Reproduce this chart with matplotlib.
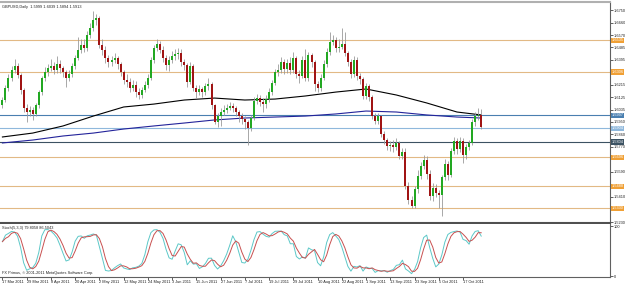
import matplotlib
matplotlib.use('Agg')
import matplotlib.pyplot as plt
import numpy as np
import pandas as pd

# GBPUSD daily bars, 17 Mar 2011 .. 25 Oct 2011
opens = [1.6070, 1.6105, 1.6191, 1.6263, 1.6320, 1.6349, 1.6284, 1.6177, 1.6048, 1.6019,
         1.6033, 1.6005, 1.6069, 1.6162, 1.6263, 1.6306, 1.6334, 1.6349, 1.6320, 1.6363,
         1.6334, 1.6306, 1.6263, 1.6291, 1.6349, 1.6406, 1.6464, 1.6499, 1.6478, 1.6571,
         1.6621, 1.6679, 1.6693, 1.6499, 1.6464, 1.6406, 1.6377, 1.6392, 1.6406, 1.6363,
         1.6306, 1.6248, 1.6234, 1.6191, 1.6213, 1.6162, 1.6141, 1.6177, 1.6213, 1.6263,
         1.6392, 1.6478, 1.6507, 1.6464, 1.6406, 1.6356, 1.6392, 1.6420, 1.6435, 1.6442,
         1.6377, 1.6356, 1.6234, 1.6349, 1.6191, 1.6162, 1.6184, 1.6162, 1.6205, 1.6220,
         1.6069, 1.5947, 1.5990, 1.6019, 1.6033, 1.6048, 1.6062, 1.6048, 1.6019, 1.5990,
         1.5969, 1.5947, 1.5904, 1.5976, 1.6098, 1.6119, 1.6091, 1.6076, 1.6112, 1.6162,
         1.6227, 1.6306, 1.6320, 1.6377, 1.6327, 1.6370, 1.6320, 1.6406, 1.6291, 1.6277,
         1.6392, 1.6263, 1.6428, 1.6377, 1.6220, 1.6191, 1.6263, 1.6363, 1.6449, 1.6521,
         1.6535, 1.6478, 1.6485, 1.6507, 1.6442, 1.6377, 1.6291, 1.6392, 1.6277, 1.6256,
         1.6134, 1.6205, 1.6127, 1.5990, 1.5954, 1.5990, 1.5861, 1.5818, 1.5775, 1.5782,
         1.5768, 1.5797, 1.5704, 1.5732, 1.5488, 1.5388, 1.5345, 1.5467, 1.5560, 1.5632,
         1.5675, 1.5574, 1.5417, 1.5474, 1.5438, 1.5424, 1.5553, 1.5646, 1.5567, 1.5739,
         1.5811, 1.5754, 1.5811, 1.5711, 1.5768, 1.5797, 1.5947, 1.5990, 1.5999]
highs = [1.6130, 1.6210, 1.6290, 1.6350, 1.6400, 1.6370, 1.6300, 1.6190, 1.6075, 1.6060,
         1.6055, 1.6085, 1.6180, 1.6280, 1.6340, 1.6360, 1.6400, 1.6375, 1.6420, 1.6390,
         1.6350, 1.6320, 1.6320, 1.6370, 1.6430, 1.6560, 1.6540, 1.6540, 1.6600, 1.6660,
         1.6746, 1.6720, 1.6710, 1.6540, 1.6490, 1.6430, 1.6420, 1.6440, 1.6420, 1.6380,
         1.6320, 1.6290, 1.6260, 1.6250, 1.6240, 1.6190, 1.6200, 1.6240, 1.6290, 1.6410,
         1.6500, 1.6545, 1.6530, 1.6490, 1.6430, 1.6420, 1.6460, 1.6470, 1.6480, 1.6470,
         1.6400, 1.6370, 1.6380, 1.6360, 1.6210, 1.6210, 1.6200, 1.6230, 1.6260, 1.6235,
         1.6080, 1.6010, 1.6050, 1.6070, 1.6080, 1.6090, 1.6085, 1.6060, 1.6030, 1.6010,
         1.5990, 1.5960, 1.6000, 1.6130, 1.6150, 1.6140, 1.6120, 1.6140, 1.6190, 1.6250,
         1.6330, 1.6360, 1.6410, 1.6400, 1.6400, 1.6410, 1.6450, 1.6420, 1.6320, 1.6420,
         1.6470, 1.6450, 1.6440, 1.6390, 1.6240, 1.6290, 1.6390, 1.6480, 1.6590, 1.6570,
         1.6560, 1.6540, 1.6618, 1.6590, 1.6460, 1.6400, 1.6420, 1.6410, 1.6300, 1.6270,
         1.6230, 1.6220, 1.6140, 1.6010, 1.6010, 1.6000, 1.5880, 1.5830, 1.5810, 1.5820,
         1.5830, 1.5810, 1.5760, 1.5760, 1.5520, 1.5420, 1.5490, 1.5600, 1.5660, 1.5710,
         1.5700, 1.5600, 1.5510, 1.5500, 1.5460, 1.5570, 1.5680, 1.5670, 1.5760, 1.5840,
         1.5830, 1.5840, 1.5830, 1.5790, 1.5820, 1.5970, 1.6020, 1.6045, 1.6039]
lows = [1.6050, 1.6090, 1.6170, 1.6245, 1.6300, 1.6260, 1.6150, 1.6020, 1.5950, 1.5990,
        1.5960, 1.5990, 1.6050, 1.6140, 1.6240, 1.6280, 1.6310, 1.6290, 1.6300, 1.6300,
        1.6270, 1.6200, 1.6240, 1.6270, 1.6330, 1.6390, 1.6440, 1.6450, 1.6460, 1.6550,
        1.6600, 1.6640, 1.6480, 1.6430, 1.6370, 1.6340, 1.6350, 1.6370, 1.6330, 1.6280,
        1.6220, 1.6200, 1.6160, 1.6170, 1.6130, 1.6110, 1.6120, 1.6160, 1.6190, 1.6250,
        1.6370, 1.6460, 1.6440, 1.6380, 1.6320, 1.6310, 1.6370, 1.6390, 1.6400, 1.6350,
        1.6320, 1.6200, 1.6220, 1.6170, 1.6120, 1.6140, 1.6130, 1.6140, 1.6180, 1.6040,
        1.5930, 1.5910, 1.5920, 1.6000, 1.6010, 1.6030, 1.6020, 1.5990, 1.5950, 1.5930,
        1.5900, 1.5780, 1.5880, 1.5960, 1.6080, 1.6060, 1.6020, 1.6050, 1.6090, 1.6140,
        1.6210, 1.6280, 1.6300, 1.6290, 1.6300, 1.6290, 1.6300, 1.6260, 1.6230, 1.6260,
        1.6240, 1.6240, 1.6340, 1.6170, 1.6160, 1.6170, 1.6250, 1.6340, 1.6430, 1.6500,
        1.6450, 1.6450, 1.6470, 1.6420, 1.6350, 1.6260, 1.6270, 1.6250, 1.6220, 1.6110,
        1.6110, 1.6100, 1.5970, 1.5930, 1.5930, 1.5840, 1.5790, 1.5750, 1.5740, 1.5730,
        1.5750, 1.5680, 1.5680, 1.5470, 1.5360, 1.5330, 1.5330, 1.5440, 1.5540, 1.5610,
        1.5540, 1.5390, 1.5380, 1.5410, 1.5330, 1.5272, 1.5530, 1.5530, 1.5550, 1.5720,
        1.5720, 1.5730, 1.5650, 1.5680, 1.5750, 1.5780, 1.5920, 1.5960, 1.5894]
closes = [1.6105, 1.6191, 1.6263, 1.6320, 1.6349, 1.6284, 1.6177, 1.6048, 1.6019, 1.6033,
          1.6005, 1.6069, 1.6162, 1.6263, 1.6306, 1.6334, 1.6349, 1.6320, 1.6363, 1.6334,
          1.6306, 1.6263, 1.6291, 1.6349, 1.6406, 1.6464, 1.6499, 1.6478, 1.6571, 1.6621,
          1.6679, 1.6693, 1.6499, 1.6464, 1.6406, 1.6377, 1.6392, 1.6406, 1.6363, 1.6306,
          1.6248, 1.6234, 1.6191, 1.6213, 1.6162, 1.6141, 1.6177, 1.6213, 1.6263, 1.6392,
          1.6478, 1.6507, 1.6464, 1.6406, 1.6356, 1.6392, 1.6420, 1.6435, 1.6442, 1.6377,
          1.6356, 1.6234, 1.6349, 1.6191, 1.6162, 1.6184, 1.6162, 1.6205, 1.6220, 1.6069,
          1.5947, 1.5990, 1.6019, 1.6033, 1.6048, 1.6062, 1.6048, 1.6019, 1.5990, 1.5969,
          1.5947, 1.5904, 1.5976, 1.6098, 1.6119, 1.6091, 1.6076, 1.6112, 1.6162, 1.6227,
          1.6306, 1.6320, 1.6377, 1.6327, 1.6370, 1.6320, 1.6406, 1.6291, 1.6277, 1.6392,
          1.6263, 1.6428, 1.6377, 1.6220, 1.6191, 1.6263, 1.6363, 1.6449, 1.6521, 1.6535,
          1.6478, 1.6485, 1.6507, 1.6442, 1.6377, 1.6291, 1.6392, 1.6277, 1.6256, 1.6134,
          1.6205, 1.6127, 1.5990, 1.5954, 1.5990, 1.5861, 1.5818, 1.5775, 1.5782, 1.5768,
          1.5797, 1.5704, 1.5732, 1.5488, 1.5388, 1.5345, 1.5467, 1.5560, 1.5632, 1.5675,
          1.5574, 1.5417, 1.5474, 1.5438, 1.5424, 1.5553, 1.5646, 1.5567, 1.5739, 1.5811,
          1.5754, 1.5811, 1.5711, 1.5768, 1.5797, 1.5947, 1.5990, 1.5999, 1.5913]

# moving averages, sampled every 10 bars
ma_bars = [0, 10, 20, 30, 40, 50, 60, 70, 80, 90, 100, 110, 120, 130, 140, 150, 158]
ma_fast = [1.5840, 1.5868, 1.5919, 1.5990, 1.6055, 1.6076, 1.6105, 1.6119, 1.6105,
           1.6112, 1.6134, 1.6162, 1.6184, 1.6141, 1.6084, 1.6019, 1.5998]
ma_slow = [1.5797, 1.5818, 1.5847, 1.5868, 1.5897, 1.5919, 1.5940, 1.5962, 1.5976,
           1.5983, 1.5990, 1.6005, 1.6026, 1.6019, 1.5998, 1.5983, 1.5976]

orange_levels = [1.6535, 1.6306, 1.5696, 1.5488, 1.5330]
blue_levels = [1.5997, 1.5904, 1.5804]
blue_colors = ['#4a7fb0', '#8fb8dc', '#3c5262']

price_ticks = [1.6750, 1.6660, 1.6570, 1.6485, 1.6395, 1.6305, 1.6215, 1.6125, 1.6035,
               1.5950, 1.5860, 1.5770, 1.5680, 1.5590, 1.5500, 1.5410, 1.5320, 1.5230]
hidden_ticks = [1.6305, 1.5680, 1.5500, 1.5320]  # covered by the level boxes
date_labels = ['17 Mar 2011', '29 Mar 2011', '8 Apr 2011', '20 Apr 2011', '2 May 2011',
               '12 May 2011', '24 May 2011', '3 Jun 2011', '15 Jun 2011', '27 Jun 2011',
               '7 Jul 2011', '19 Jul 2011', '29 Jul 2011', '10 Aug 2011', '22 Aug 2011',
               '1 Sep 2011', '13 Sep 2011', '23 Sep 2011', '5 Oct 2011', '17 Oct 2011']

plt.rcParams['font.family'] = ['Liberation Sans', 'DejaVu Sans']
FS = 2.8
o, h, l, c = map(np.array, (opens, highs, lows, closes))
x = np.arange(len(c))

# Stochastic 5,3,3
df = pd.DataFrame({'h': h, 'l': l, 'c': c})
hh = df.h.rolling(5, min_periods=1).max()
ll = df.l.rolling(5, min_periods=1).min()
stoch_main = 100 * (df.c - ll).rolling(3, min_periods=1).sum() / (hh - ll).rolling(3, min_periods=1).sum()
stoch_signal = stoch_main.rolling(3, min_periods=1).mean()

fig = plt.figure(figsize=(6.25, 2.85), dpi=100)
ax = fig.add_axes([0, 1 - 223 / 285, 610 / 625, 221 / 285])
sub = fig.add_axes([0, 1 - 277 / 285, 610 / 625, 53 / 285])
xlim = (-0.8, 200.5)

# main chart
for lvl in orange_levels:
    ax.axhline(lvl, color='#e2b985', lw=0.8, zorder=1)
for lvl, col in zip(blue_levels, blue_colors):
    ax.axhline(lvl, color=col, lw=0.8, zorder=1)

ax.plot(ma_bars, ma_fast, color='black', lw=0.8, zorder=2)
ax.plot(ma_bars, ma_slow, color='#23239a', lw=0.8, zorder=2)

up = c >= o
ax.vlines(x, l, h, color='#9a9a9a', lw=0.6, zorder=3)
ax.bar(x[up], (c - o)[up], bottom=o[up], width=0.66, color='#22a822', lw=0, zorder=4)
ax.bar(x[~up], (o - c)[~up], bottom=c[~up], width=0.66, color='#a01414', lw=0, zorder=4)

ax.set_xlim(*xlim)
ax.set_ylim(1.5223, 1.6808)
ax.set_xticks([])
ax.yaxis.tick_right()
ax.set_yticks(price_ticks)
ax.set_yticklabels(['' if p in hidden_ticks else f'{p:.4f}' for p in price_ticks])
ax.tick_params(axis='y', labelsize=FS, length=2, width=0.5, pad=1, colors='#202020')

for lvl in orange_levels:
    ax.text(1.003, lvl, f'{lvl:.4f}', transform=ax.get_yaxis_transform(), fontsize=FS,
            color='white', va='center', ha='left', clip_on=False, zorder=5,
            bbox=dict(facecolor='#f0a035', edgecolor='none', pad=0.4))
for lvl, col in zip(blue_levels, blue_colors):
    ax.text(1.003, lvl, f'{lvl:.4f}', transform=ax.get_yaxis_transform(), fontsize=FS,
            color='white', va='center', ha='left', clip_on=False, zorder=5,
            bbox=dict(facecolor=col, edgecolor='none', pad=0.4))

ax.text(0.004, 0.985, 'GBPUSD,Daily  1.5999 1.6039 1.5894 1.5913', transform=ax.transAxes,
        fontsize=FS, va='top', ha='left', color='#202020')

ax.spines['left'].set_visible(False)
ax.spines['top'].set_color('#b0b0b0')
ax.spines['top'].set_linewidth(1.5)
ax.spines['right'].set_color('#606060')
ax.spines['right'].set_linewidth(0.8)
ax.spines['bottom'].set_color('#505050')
ax.spines['bottom'].set_linewidth(1.5)

# stochastic window
sub.plot(x, stoch_main, color='#5cc8c8', lw=0.7)
sub.plot(x, stoch_signal, color='#c85050', lw=0.7)
sub.set_xlim(*xlim)
sub.set_ylim(-2, 104)
sub.yaxis.tick_right()
sub.set_yticks([0, 100])
sub.set_yticklabels(['0', '100'])
sub.tick_params(axis='y', labelsize=FS, length=2, width=0.5, pad=1, colors='#202020')
sub.set_xticks(range(0, 8 * len(date_labels), 8))
sub.set_xticklabels(date_labels, ha='left')
sub.tick_params(axis='x', labelsize=FS, length=2, width=0.5, pad=0.5, colors='#202020')
sub.text(0.004, 0.97, f'Stoch(5,3,3) {stoch_main.iloc[-1]:.4f} {stoch_signal.iloc[-1]:.4f}',
         transform=sub.transAxes, fontsize=FS, va='top', ha='left', color='#202020')
sub.text(0.004, 0.03, 'FX Primus, \u00a9 2001-2011 MetaQuotes Software Corp.',
         transform=sub.transAxes, fontsize=FS, va='bottom', ha='left', color='#202020')
sub.spines['left'].set_visible(False)
sub.spines['top'].set_visible(False)
sub.spines['right'].set_color('#606060')
sub.spines['right'].set_linewidth(0.8)
sub.spines['bottom'].set_color('#606060')
sub.spines['bottom'].set_linewidth(0.8)

fig.savefig('out.png', dpi=100, facecolor='white')
